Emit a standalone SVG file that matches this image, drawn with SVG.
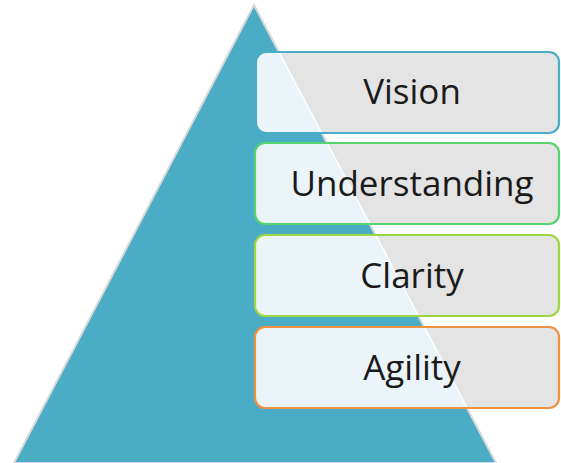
<svg xmlns="http://www.w3.org/2000/svg" width="561" height="463" viewBox="0 0 561 463">
<style>
.box{stroke-width:2.2}
.lbl{font-family:"Open Sans","Liberation Sans",sans-serif;font-size:35px;fill:#1a1a1a;text-anchor:middle}
.gray{fill:#E4E4E4}
.lite{fill:#EBF4F8}
.edge{stroke:#fff;stroke-width:1.5}
</style>
<defs>
<clipPath id="tri"><polygon points="254,5 14,463 496,463"/></clipPath>
</defs>
<rect width="561" height="463" fill="#fff"/>
<g id="pyramid">
<polygon points="254,5 14,463 496,463" fill="#4BACC6" stroke="#d8d8d8" stroke-width="2"/>
</g>
<g id="vision">
<rect class="gray" x="256" y="52" width="303" height="81" rx="10"/>
<rect class="lite" x="256" y="52" width="303" height="81" rx="10" clip-path="url(#tri)"/>
<line class="edge" x1="278.4" y1="51" x2="321.3" y2="132"/>
<rect class="box" x="256" y="52" width="303" height="81" rx="10" fill="none" stroke="#4BACC6"/>
<text class="lbl" x="412" y="104">Vision</text>
</g>
<g id="understanding">
<rect class="gray" x="255" y="143" width="304" height="81" rx="10"/>
<rect class="lite" x="255" y="143" width="304" height="81" rx="10" clip-path="url(#tri)"/>
<line class="edge" x1="327.1" y1="143" x2="369.9" y2="224"/>
<rect class="box" x="255" y="143" width="304" height="81" rx="10" fill="none" stroke="#55D46E"/>
<text class="lbl" x="412" y="196">Understanding</text>
</g>
<g id="clarity">
<rect class="gray" x="255" y="235" width="304" height="81" rx="10"/>
<rect class="lite" x="255" y="235" width="304" height="81" rx="10" clip-path="url(#tri)"/>
<line class="edge" x1="375.7" y1="235" x2="418.5" y2="316"/>
<rect class="box" x="255" y="235" width="304" height="81" rx="10" fill="none" stroke="#9CD643"/>
<text class="lbl" x="412" y="288">Clarity</text>
</g>
<g id="agility">
<rect class="gray" x="255" y="327" width="304" height="81" rx="10"/>
<rect class="lite" x="255" y="327" width="304" height="81" rx="10" clip-path="url(#tri)"/>
<line class="edge" x1="424.4" y1="327" x2="467.2" y2="408"/>
<rect class="box" x="255" y="327" width="304" height="81" rx="10" fill="none" stroke="#F0913F"/>
<text class="lbl" x="412" y="380">Agility</text>
</g>
<g id="connectors"/>
</svg>
